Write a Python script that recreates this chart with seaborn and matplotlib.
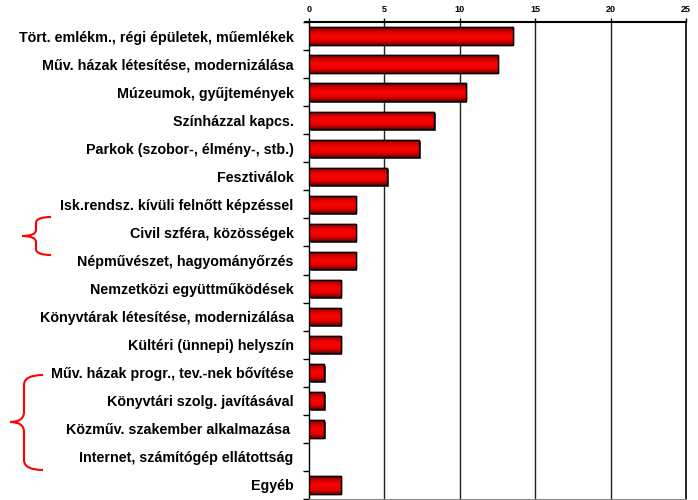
import numpy as np
import pandas as pd
import matplotlib
matplotlib.use("Agg")
import matplotlib.pyplot as plt
import seaborn as sns
from matplotlib.path import Path
from matplotlib.patches import PathPatch
from matplotlib.lines import Line2D
from matplotlib.colors import LinearSegmentedColormap

categories = [
    "Tört. emlékm., régi épületek, műemlékek",
    "Műv. házak létesítése, modernizálása",
    "Múzeumok, gyűjtemények",
    "Színházzal kapcs.",
    "Parkok (szobor-, élmény-, stb.)",
    "Fesztiválok",
    "Isk.rendsz. kívüli felnőtt képzéssel",
    "Civil szféra, közösségek",
    "Népművészet, hagyományőrzés",
    "Nemzetközi együttműködések",
    "Könyvtárak létesítése, modernizálása",
    "Kültéri (ünnepi) helyszín",
    "Műv. házak progr., tev.-nek bővítése",
    "Könyvtári szolg. javításával",
    "Közműv. szakember alkalmazása ",
    "Internet, számítógép ellátottság",
    "Egyéb",
]
values = [13.5, 12.5, 10.4, 8.3, 7.3, 5.2, 3.1, 3.1, 3.1, 2.1, 2.1, 2.1, 1.0, 1.0, 1.0, 0.0, 2.1]
x_ticks = [0, 5, 10, 15, 20, 25]

df = pd.DataFrame({"cat": categories, "val": values})

sns.set_style("white")
plt.rcParams["font.family"] = ["Liberation Sans", "DejaVu Sans"]
plt.rcParams["text.color"] = "black"
plt.rcParams["xtick.color"] = "black"
plt.rcParams["ytick.color"] = "black"

W, H = 698, 500
fig = plt.figure(figsize=(W / 100, H / 100), dpi=100)
ax = fig.add_axes([309 / W, 0.002, (686 - 309) / W, (499 - 22) / H])

sns.barplot(data=df, y="cat", x="val", orient="h", color="red", width=0.62,
            edgecolor="black", linewidth=1.0, ax=ax, zorder=3)

ax.set_xlim(0, 25)
ax.set_ylim(len(categories) - 0.5, -0.5)

# gradient fill on bars
cmap = LinearSegmentedColormap.from_list(
    "cyl", [(0.0, "#700000"), (0.22, "#c80000"), (0.5, "#ff0000"),
            (0.78, "#e00000"), (1.0, "#800000")])
grad = np.linspace(0, 1, 64).reshape(-1, 1)
for p in list(ax.patches):
    x0, y0 = p.get_x(), p.get_y()
    w, h = p.get_width(), p.get_height()
    if w <= 0:
        p.set_visible(False)
        continue
    ax.add_patch(plt.Rectangle((x0 + 0.1, y0 + 0.06), w, h, facecolor="#555555",
                               edgecolor="none", zorder=2))
    im = ax.imshow(grad, extent=(x0, x0 + w, y0 + h, y0), cmap=cmap,
                   aspect="auto", zorder=3.5, interpolation="bilinear")
    im.set_clip_path(p)
    ax.add_patch(plt.Rectangle((x0, y0), w, h, facecolor="none", edgecolor="black",
                               linewidth=1.0, zorder=4))
ax.set_xlim(0, 25)
ax.set_ylim(len(categories) - 0.5, -0.5)

ax.xaxis.tick_top()
ax.set_xticks(x_ticks)
ax.set_xticklabels([str(t) for t in x_ticks], fontsize=6.5, fontweight="bold")
ax.tick_params(axis="x", direction="out", length=3, width=1, pad=3, color="black")
ax.set_xlabel("")
ax.set_ylabel("")

ax.set_yticks(range(len(categories)))
ax.set_yticklabels(categories, fontsize=10.3, fontweight="bold", color="black")
ax.tick_params(axis="y", which="major", length=0, pad=11)
ax.set_yticks(np.arange(-0.5, len(categories), 1.0), minor=True)
ax.tick_params(axis="y", which="minor", length=4, width=1, color="black", left=True)

for t in x_ticks[1:-1]:
    ax.axvline(t, color="#222222", linewidth=1.0, zorder=1)

ax.spines["top"].set_visible(True)
ax.spines["top"].set_color("black")
ax.spines["top"].set_linewidth(1.5)
ax.spines["left"].set_visible(True)
ax.spines["left"].set_color("black")
ax.spines["left"].set_linewidth(1.0)
ax.spines["right"].set_visible(True)
ax.spines["right"].set_color("black")
ax.spines["right"].set_linewidth(1.2)
ax.spines["bottom"].set_visible(True)
ax.spines["bottom"].set_color("#888888")
ax.spines["bottom"].set_linewidth(0.8)
ax.grid(False)

# small extension of the top axis line to the left
fig.lines.append(Line2D([305 / W, 309 / W], [1 - 22 / H, 1 - 22 / H],
                        transform=fig.transFigure, color="black", linewidth=1.5))


def brace(x_end, x_v, x_tip, y_top, y_mid, y_bot, r=6):
    def P(x, y):
        return (x / W, 1 - y / H)
    verts = [P(x_end, y_top), P(x_v, y_top), P(x_v, y_top + r),
             P(x_v, y_mid - r), P(x_v, y_mid), P(x_tip, y_mid),
             P(x_v, y_mid), P(x_v, y_mid + r),
             P(x_v, y_bot - r), P(x_v, y_bot), P(x_end, y_bot)]
    codes = [Path.MOVETO, Path.CURVE3, Path.CURVE3,
             Path.LINETO, Path.CURVE3, Path.CURVE3,
             Path.CURVE3, Path.CURVE3,
             Path.LINETO, Path.CURVE3, Path.CURVE3]
    fig.patches.append(PathPatch(Path(verts, codes), transform=fig.transFigure,
                                 facecolor="none", edgecolor="red", linewidth=1.5))


brace(51, 36, 22, 217, 236, 255, r=6)
brace(43, 24, 10, 375, 422, 470, r=10)

fig.savefig("out.png", dpi=100)
